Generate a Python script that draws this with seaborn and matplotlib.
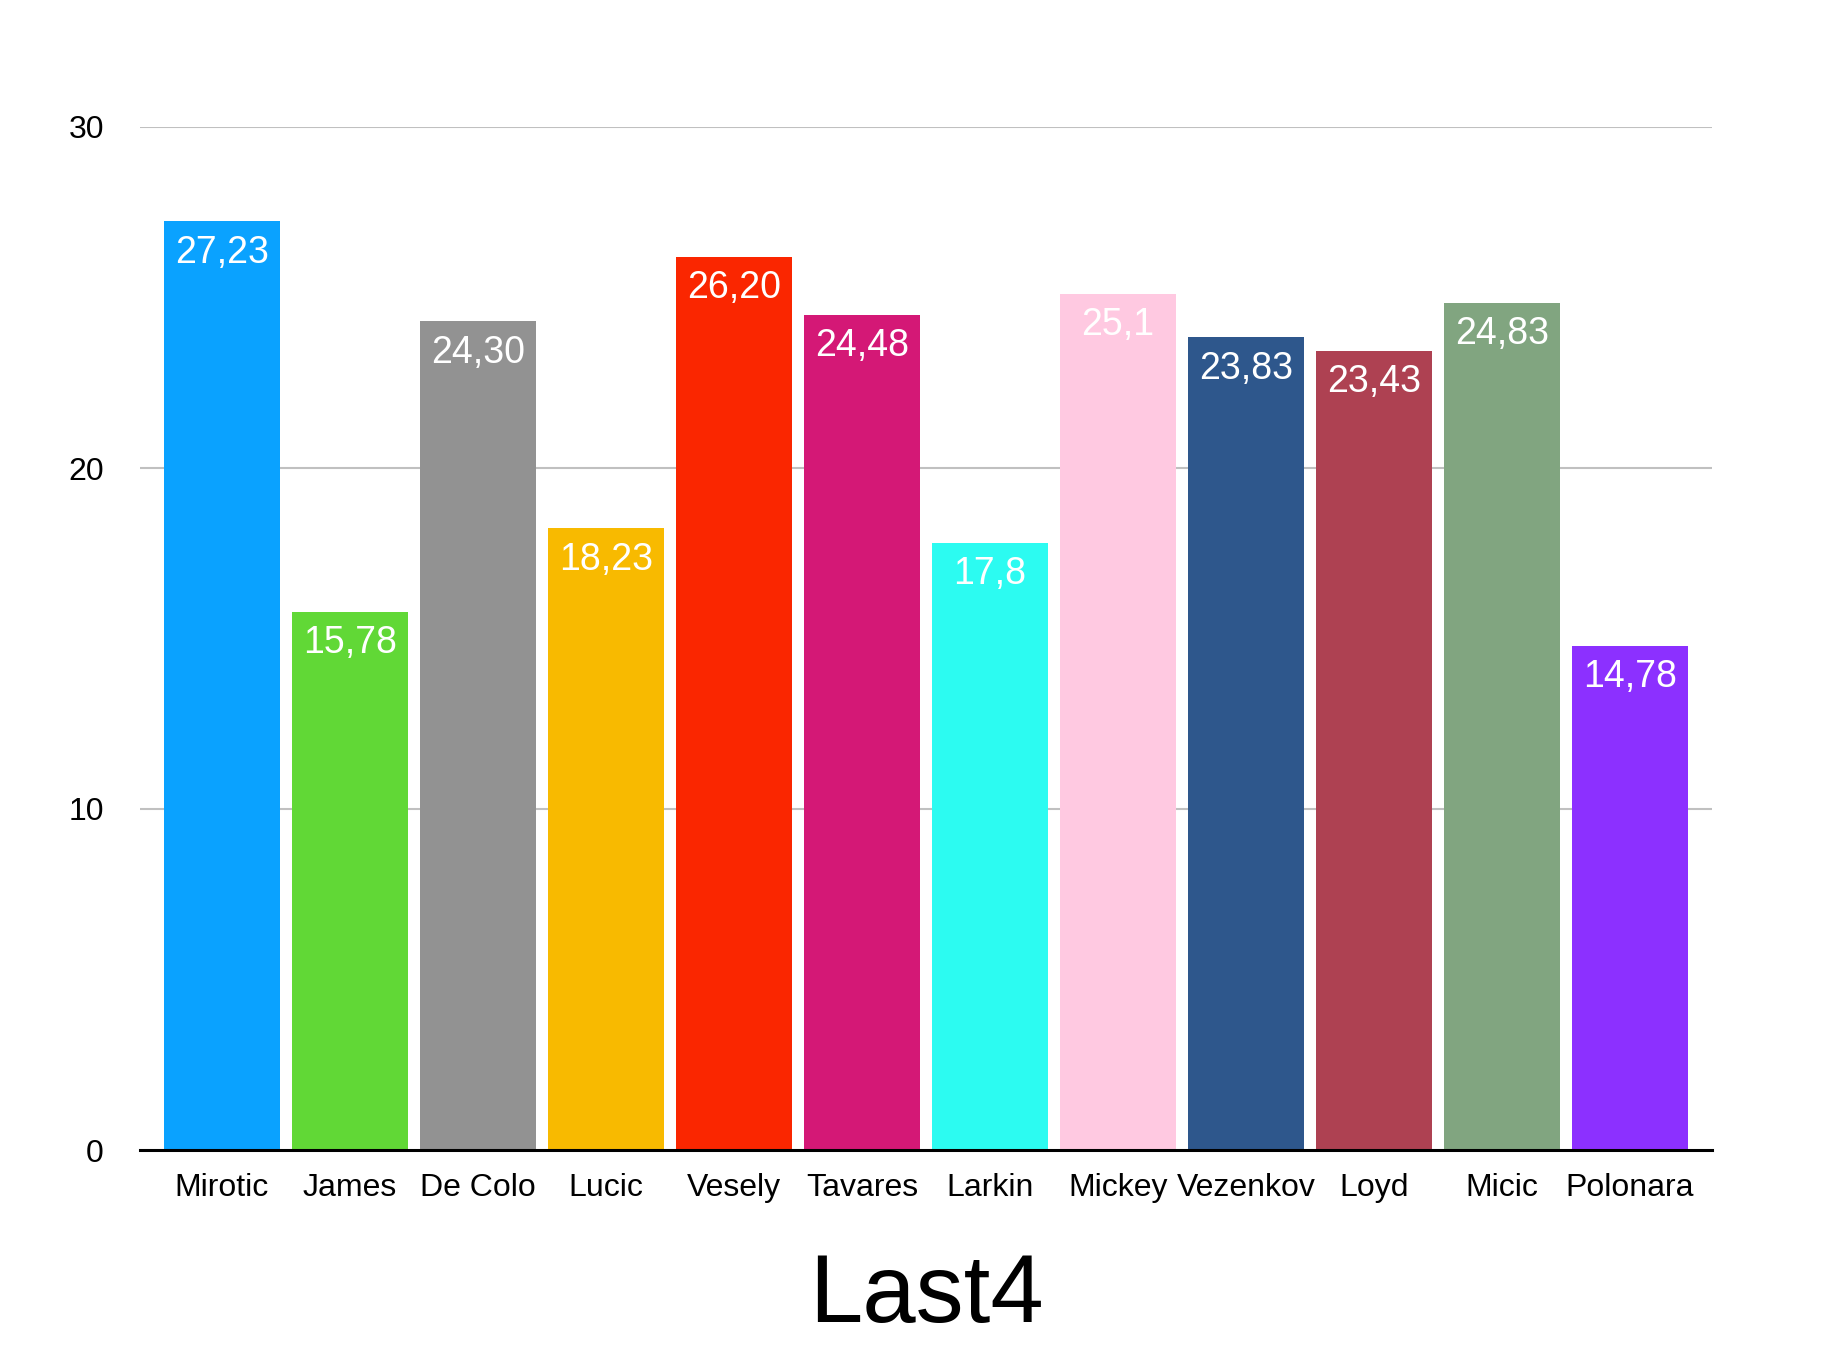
import matplotlib
matplotlib.use("Agg")
import matplotlib.pyplot as plt
import seaborn as sns
import pandas as pd

players = ["Mirotic", "James", "De Colo", "Lucic", "Vesely", "Tavares",
           "Larkin", "Mickey", "Vezenkov", "Loyd", "Micic", "Polonara"]
values = [27.23, 15.78, 24.30, 18.23, 26.20, 24.48,
          17.8, 25.1, 23.83, 23.43, 24.83, 14.78]
value_labels = ["27,23", "15,78", "24,30", "18,23", "26,20", "24,48",
                "17,8", "25,1", "23,83", "23,43", "24,83", "14,78"]
colors = ["#0aa2ff", "#61d836", "#929292", "#f8ba00", "#fa2600", "#d41876",
          "#2cfbf1", "#ffc9e1", "#2e578c", "#ae4152", "#81a580", "#8c30ff"]
yticks = [0, 10, 20, 30]
title = "Last4"

sns.set_theme(style="white")
plt.rcParams["font.family"] = ["Liberation Sans", "DejaVu Sans"]

df = pd.DataFrame({"player": players, "value": values})

fig = plt.figure(figsize=(18.32, 13.5), dpi=100)
ax = fig.add_axes([140 / 1832, 1 - 1150 / 1350, 1572 / 1832, (1150 - 127) / 1350])

sns.barplot(data=df, x="player", y="value", hue="player", palette=colors,
            legend=False, width=0.906, saturation=1, ax=ax, zorder=3,
            linewidth=0)

ax.set_xlim(-0.64, 11.64)
ax.set_ylim(0, 30)
ax.set_yticks(yticks)
ax.set_yticklabels([str(t) for t in yticks])
for t in yticks[1:]:
    ax.axhline(t, color="#c0c0c0", lw=1.5, zorder=1)

for sp in ["top", "right", "left"]:
    ax.spines[sp].set_visible(False)
ax.spines["bottom"].set_color("black")
ax.spines["bottom"].set_linewidth(2.2)
ax.spines["bottom"].set_zorder(4)

ax.tick_params(axis="y", length=0, pad=26, labelsize=23, labelcolor="black")
ax.tick_params(axis="x", length=0, pad=16.5, labelsize=23, labelcolor="black")
ax.set_xlabel("")
ax.set_ylabel("")

for i, (v, lab) in enumerate(zip(values, value_labels)):
    ax.annotate(lab, xy=(i, v), xytext=(0, -9.5), textcoords="offset points",
                ha="center", va="top", fontsize=27, color="white", zorder=5)

fig.text(926 / 1832, 1 - 1322 / 1350, title, fontsize=69, ha="center",
         va="baseline", color="black")

fig.savefig("out.png", dpi=100, facecolor="white")
